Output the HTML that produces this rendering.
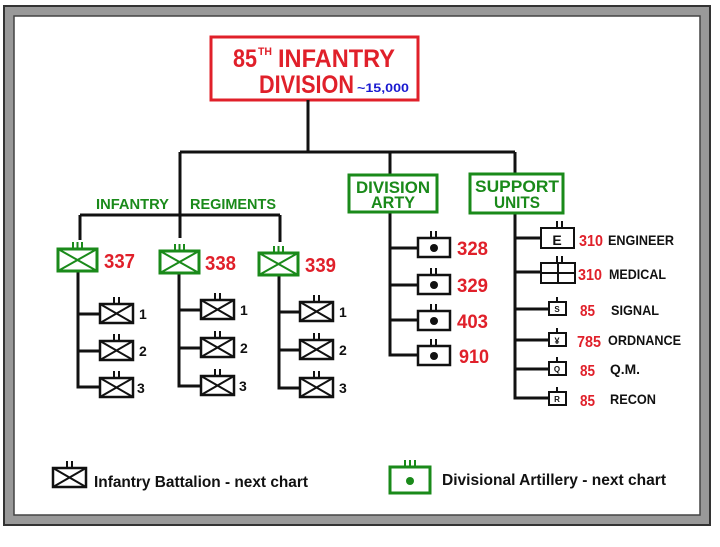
<!DOCTYPE html>
<html><head><meta charset="utf-8"><style>
html,body{margin:0;padding:0;background:#fff;width:720px;height:547px;overflow:hidden}
svg{display:block}
text{font-family:"Liberation Sans",Arial,sans-serif;font-weight:bold}
</style></head><body>
<svg width="720" height="547" viewBox="0 0 720 547" xmlns="http://www.w3.org/2000/svg">
<defs>
<g id="bn"><rect x="0" y="0" width="33" height="19" fill="#fff" stroke="#111" stroke-width="2.5"/><path d="M0 0L33 19M33 0L0 19" stroke="#111" stroke-width="2"/><path d="M14 0v-7M19 0v-7" stroke="#111" stroke-width="2"/></g>
<g id="rg"><rect x="0" y="0" width="39" height="22" fill="#fff" stroke="#1a8a1a" stroke-width="3"/><path d="M0 0L39 22M39 0L0 22" stroke="#1a8a1a" stroke-width="2"/><path d="M15 0v-7M19.5 0v-7M24 0v-7" stroke="#1a8a1a" stroke-width="2"/></g>
<g id="ar"><rect x="0" y="0" width="32" height="19" fill="#fff" stroke="#111" stroke-width="2.5"/><circle cx="16" cy="10" r="4" fill="#111"/><path d="M13 0v-7M18 0v-7" stroke="#111" stroke-width="2"/></g>
</defs>
<rect x="4" y="6" width="706" height="519" fill="#999" stroke="#333" stroke-width="2"/>
<rect x="14" y="16" width="686" height="499" fill="#fff" stroke="#444" stroke-width="1.5"/>
<rect x="211" y="37" width="207" height="63" fill="#fff" stroke="#e0202a" stroke-width="3"/>
<text x="233" y="67" font-size="25" fill="#e0202a" textLength="24" lengthAdjust="spacingAndGlyphs">85</text>
<text x="258" y="55" font-size="11" fill="#e0202a" textLength="14" lengthAdjust="spacingAndGlyphs">TH</text>
<text x="278" y="67" font-size="25" fill="#e0202a" textLength="117" lengthAdjust="spacingAndGlyphs">INFANTRY</text>
<text x="259" y="93" font-size="25" fill="#e0202a" textLength="95" lengthAdjust="spacingAndGlyphs">DIVISION</text>
<text x="357" y="92" font-size="12" fill="#1a1ad0" textLength="52" lengthAdjust="spacingAndGlyphs">~15,000</text>
<g stroke="#111" stroke-width="3" fill="none">
<path d="M308 100V152M180 152H515M180 152V238M390 152V176M515 152V174"/>
<path d="M80 215H280M80 215V240M280 215V242"/>
<path d="M78 272V387H100M78 314H100M78 351H100"/>
<path d="M179 274V386H201M179 310H201M179 348H201"/>
<path d="M279 276V388H300M279 312H300M279 350H300"/>
<path d="M390 212V355H418M390 248H418M390 285H418M390 320H418"/>
<path d="M515 213V398H548M515 238H540M515 272H540M515 309H548M515 340H548M515 369H548"/>
</g>
<text x="96" y="209" font-size="15" fill="#1a8a1a" textLength="73" lengthAdjust="spacingAndGlyphs">INFANTRY</text>
<text x="190" y="209" font-size="15" fill="#1a8a1a" textLength="86" lengthAdjust="spacingAndGlyphs">REGIMENTS</text>
<rect x="349" y="175" width="88" height="37" fill="#fff" stroke="#1a8a1a" stroke-width="3"/>
<text x="393" y="193" font-size="17" fill="#1a8a1a" text-anchor="middle" textLength="74" lengthAdjust="spacingAndGlyphs">DIVISION</text>
<text x="393" y="208" font-size="17" fill="#1a8a1a" text-anchor="middle" textLength="44" lengthAdjust="spacingAndGlyphs">ARTY</text>
<rect x="470" y="174" width="93" height="39" fill="#fff" stroke="#1a8a1a" stroke-width="3"/>
<text x="517" y="192" font-size="17" fill="#1a8a1a" text-anchor="middle" textLength="84" lengthAdjust="spacingAndGlyphs">SUPPORT</text>
<text x="517" y="208" font-size="17" fill="#1a8a1a" text-anchor="middle" textLength="46" lengthAdjust="spacingAndGlyphs">UNITS</text>
<use href="#rg" x="58" y="249"/><use href="#rg" x="160" y="251"/><use href="#rg" x="259" y="253"/>
<g font-size="20" fill="#e0202a"><text x="104" y="268" textLength="31" lengthAdjust="spacingAndGlyphs">337</text><text x="205" y="270" textLength="31" lengthAdjust="spacingAndGlyphs">338</text><text x="305" y="272" textLength="31" lengthAdjust="spacingAndGlyphs">339</text></g>
<use href="#bn" x="100" y="304"/><use href="#bn" x="100" y="341"/><use href="#bn" x="100" y="378"/>
<use href="#bn" x="201" y="300"/><use href="#bn" x="201" y="338"/><use href="#bn" x="201" y="376"/>
<use href="#bn" x="300" y="302"/><use href="#bn" x="300" y="340"/><use href="#bn" x="300" y="378"/>
<g font-size="14" fill="#111">
<text x="139" y="319">1</text><text x="139" y="356">2</text><text x="137" y="393">3</text>
<text x="240" y="315">1</text><text x="240" y="353">2</text><text x="239" y="391">3</text>
<text x="339" y="317">1</text><text x="339" y="355">2</text><text x="339" y="393">3</text>
</g>
<use href="#ar" x="418" y="238"/><use href="#ar" x="418" y="275"/><use href="#ar" x="418" y="311"/><use href="#ar" x="418" y="346"/>
<g font-size="19" fill="#e0202a"><text x="457" y="255" textLength="31" lengthAdjust="spacingAndGlyphs">328</text><text x="457" y="292" textLength="31" lengthAdjust="spacingAndGlyphs">329</text><text x="457" y="328" textLength="31" lengthAdjust="spacingAndGlyphs">403</text><text x="459" y="363" textLength="30" lengthAdjust="spacingAndGlyphs">910</text></g>
<g stroke="#111" stroke-width="2" fill="#fff">
<rect x="541" y="228" width="33" height="20"/><path d="M557 228v-7M562 228v-7"/>
<rect x="541" y="263" width="34" height="20"/><path d="M541 273H575M558 263V283M557 263v-7M562 263v-7"/>
<rect x="549" y="302" width="17" height="13"/><path d="M557 302v-5"/>
<rect x="549" y="333" width="17" height="13"/><path d="M557 333v-5"/>
<rect x="549" y="362" width="17" height="13"/><path d="M557 362v-5"/>
<rect x="549" y="392" width="17" height="13"/><path d="M557 392v-5"/>
</g>
<g fill="#111" text-anchor="middle">
<text x="557" y="245" font-size="14">E</text>
<text x="557" y="312" font-size="8">S</text>
<text x="557" y="344" font-size="9">¥</text>
<text x="557" y="372" font-size="8">Q</text>
<text x="557" y="402" font-size="8">R</text>
</g>
<g font-size="16" fill="#e0202a">
<text x="579" y="246" textLength="24" lengthAdjust="spacingAndGlyphs">310</text><text x="578" y="280" textLength="24" lengthAdjust="spacingAndGlyphs">310</text><text x="580" y="316" textLength="15" lengthAdjust="spacingAndGlyphs">85</text>
<text x="577" y="347" textLength="24" lengthAdjust="spacingAndGlyphs">785</text><text x="580" y="376" textLength="15" lengthAdjust="spacingAndGlyphs">85</text><text x="580" y="406" textLength="15" lengthAdjust="spacingAndGlyphs">85</text>
</g>
<g font-size="14" fill="#111">
<text x="608" y="245" textLength="66" lengthAdjust="spacingAndGlyphs">ENGINEER</text>
<text x="609" y="279" textLength="57" lengthAdjust="spacingAndGlyphs">MEDICAL</text>
<text x="611" y="315" textLength="48" lengthAdjust="spacingAndGlyphs">SIGNAL</text>
<text x="608" y="345" textLength="73" lengthAdjust="spacingAndGlyphs">ORDNANCE</text>
<text x="610" y="374" textLength="30" lengthAdjust="spacingAndGlyphs">Q.M.</text>
<text x="610" y="404" textLength="46" lengthAdjust="spacingAndGlyphs">RECON</text>
</g>
<use href="#bn" x="53" y="468"/>
<text x="94" y="487" font-size="16" fill="#111" textLength="214" lengthAdjust="spacingAndGlyphs">Infantry Battalion - next chart</text>
<rect x="390" y="467" width="40" height="26" fill="#fff" stroke="#1a8a1a" stroke-width="3"/>
<circle cx="410" cy="481" r="4" fill="#1a8a1a"/>
<path d="M405 467v-7M410 467v-7M415 467v-7" stroke="#1a8a1a" stroke-width="2"/>
<text x="442" y="485" font-size="16" fill="#111" textLength="224" lengthAdjust="spacingAndGlyphs">Divisional Artillery - next chart</text>
</svg>
</body></html>
